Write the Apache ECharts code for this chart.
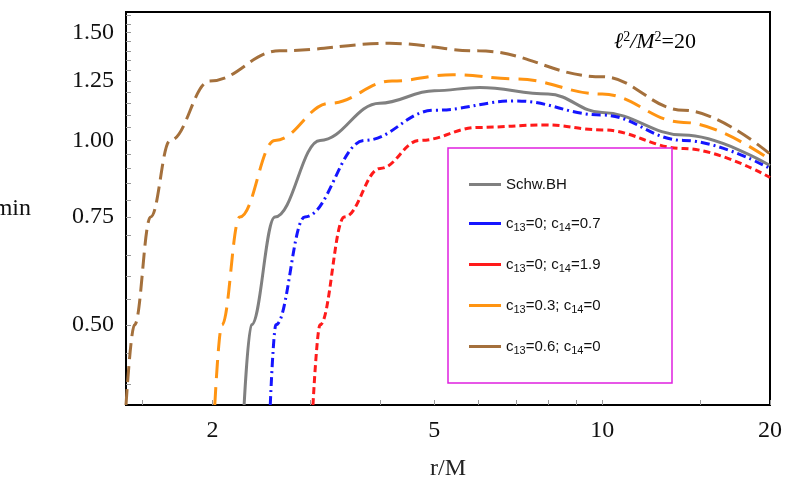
<!DOCTYPE html>
<html><head><meta charset="utf-8">
<script src="https://cdn.jsdelivr.net/npm/echarts@6/dist/echarts.min.js"></script>
<style>html,body{margin:0;padding:0;background:#fff}#c{width:789px;height:496px}</style>
</head><body><div id="c"></div>
<script>
const names = ['Schw.BH','c13=0; c14=0.7','c13=0; c14=1.9','c13=0.3; c14=0','c13=0.6; c14=0'];
const schwR = [2.28,2.35,2.59,3.12,3.99,5,6.03,8,10,14,20];
const schwE = [0.37,0.5,0.75,1.0,1.15,1.205,1.22,1.19,1.11,1.02,0.91];
const blueR = [2.54,2.6,2.93,3.75,5,7,10,14,20];
const blueE = [0.37,0.5,0.75,1.0,1.12,1.16,1.1,1.0,0.9];
const redR = [3.03,3.12,3.45,4.0,4.71,6,7.9,10,14,20];
const redE = [0.37,0.5,0.75,0.9,1.0,1.05,1.06,1.04,0.97,0.87];
const orR = [2.02,2.08,2.24,2.59,3.25,4.2,5.4,7,10,14,20];
const orE = [0.37,0.5,0.75,1.0,1.15,1.25,1.28,1.26,1.19,1.07,0.93];
const brR = [1.4,1.45,1.55,1.68,1.98,2.64,4.16,6,10,14,20];
const brE = [0.37,0.5,0.75,1.0,1.25,1.4,1.44,1.4,1.27,1.12,0.95];
const xTicks = [2,5,10,20];
const yTicks = [0.5,0.75,1.0,1.25,1.5];
const xMinor = [1.5,2,3,4,5,6,7,8,9,10,15,20];
const yMinor = [0.4,0.45,0.5,0.55,0.6,0.65,0.7,0.75,0.8,0.85,0.9,0.95,1.0,1.05,1.1,1.15,1.2,1.25,1.3,1.35,1.4,1.45,1.5,1.55,1.6];
const zip=(a,b)=>a.map((v,i)=>[v,b[i]]);
const cols=['#808080','#1515ff','#ff1a1a','#ff9412','#a4703c'];
const types=['solid',[9,4,2,4],[7,4],[18,9],[16,7]];
const datas=[zip(schwR,schwE),zip(blueR,blueE),zip(redR,redE),zip(orR,orE),zip(brR,brE)];
function fmt(n){
  if(n==='Schw.BH') return '{n|Schw.BH}';
  const m=n.match(/c13=([^;]+); c14=(.+)/);
  return '{n|c}{s|13}{n|='+m[1]+'; c}{s|14}{n|='+m[2]+'}';
}
const serif='Liberation Serif';
const chart=echarts.init(document.getElementById('c'));
chart.setOption({
  animation:false,
  grid:{left:126,right:19,top:12,bottom:91,containLabel:false,outerBoundsMode:'none',show:true,borderColor:'#000',borderWidth:2,backgroundColor:'transparent'},
  xAxis:{type:'log',min:1.4,max:20,name:'r/M',nameLocation:'middle',nameGap:52,
    nameTextStyle:{fontFamily:serif,fontSize:24,color:'#222'},
    axisLine:{lineStyle:{color:'#000',width:2}},
    axisTick:{inside:true,customValues:xMinor,length:5,lineStyle:{color:'#999'}},
    minorTick:{show:false},splitLine:{show:false},
    axisLabel:{customValues:xTicks,fontFamily:serif,fontSize:24,color:'#111',margin:14}},
  yAxis:{type:'log',min:0.37,max:1.62,name:'ℰmin',nameLocation:'middle',nameRotate:0,nameGap:95,
    nameTextStyle:{fontFamily:serif,fontSize:24,color:'#111'},
    axisLine:{lineStyle:{color:'#000',width:2}},
    axisTick:{inside:true,customValues:yMinor,length:5,lineStyle:{color:'#999'}},
    minorTick:{show:false},splitLine:{show:false},
    axisLabel:{customValues:yTicks,fontFamily:serif,fontSize:24,color:'#111',margin:12,
      formatter:v=>v.toFixed(2)}},
  legend:{orient:'vertical',left:464,top:172,itemGap:24,itemWidth:32,itemHeight:3,z:20,
    data:names.map((n,i)=>({name:n,icon:'rect',itemStyle:{color:cols[i]}})),
    formatter:fmt,
    textStyle:{rich:{n:{fontFamily:'Liberation Sans',fontSize:15,color:'#111'},
      s:{fontFamily:'Liberation Sans',fontSize:11,color:'#111',padding:[8,0,0,0]}}}},
  graphic:[
    {type:'rect',shape:{x:448,y:148,width:224,height:235},style:{fill:'#fff',stroke:'#e020e0',lineWidth:1.5},z:5},
    {type:'text',left:614,top:30,z:10,style:{text:'{i|ℓ}{s|2}{i|/M}{s|2}{r|=20}',
      rich:{i:{fontFamily:serif,fontStyle:'italic',fontSize:22,color:'#111'},
        s:{fontFamily:serif,fontSize:14,color:'#111',padding:[0,0,10,0]},
        r:{fontFamily:serif,fontSize:22,color:'#111'}}}}
  ],
  series:datas.map((d,i)=>({name:names[i],type:'line',data:d,smooth:0.4,smoothMonotone:'x',showSymbol:false,clip:true,z:2,
    lineStyle:{color:cols[i],width:3,type:types[i]},itemStyle:{color:cols[i]}}))
});
</script></body></html>
